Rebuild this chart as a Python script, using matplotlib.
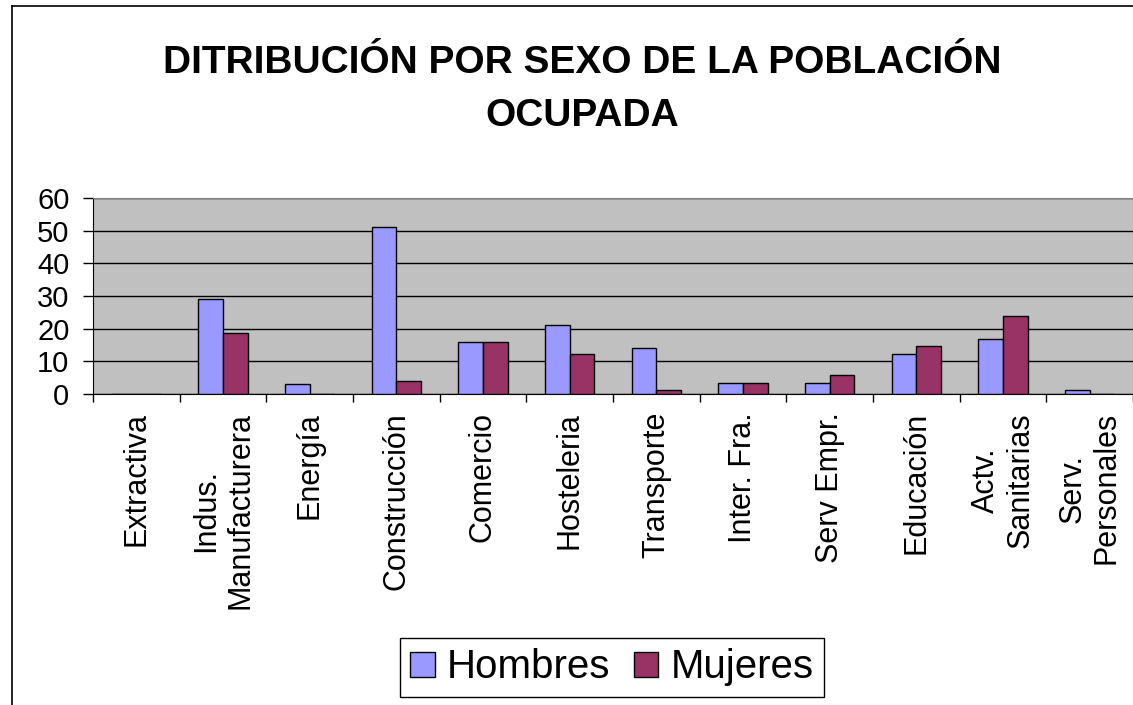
import numpy as np
import matplotlib
matplotlib.use("Agg")
import matplotlib.pyplot as plt
from matplotlib.lines import Line2D

plt.rcParams['font.family'] = ['Liberation Sans', 'DejaVu Sans']

# data
categorias = ["Extractiva", "Indus.\nManufacturera", "Energía", "Construcción",
              "Comercio", "Hosteleria", "Transporte", "Inter. Fra.",
              "Serv Empr.", "Educación", "Actv.\nSanitarias", "Serv.\nPersonales"]
hombres = [0, 29, 3.2, 51, 16, 21.2, 14.2, 3.3, 3.3, 12.2, 16.7, 1.2]
mujeres = [0, 18.6, 0, 3.9, 16, 12.2, 1.1, 3.3, 5.7, 14.8, 23.9, 0]
yticks = [0, 10, 20, 30, 40, 50, 60]

W, H = 1133, 705
fig = plt.figure(figsize=(W / 100, H / 100), dpi=100)

# chart frame (left + top border)
fig.add_artist(Line2D([12 / W, 12 / W], [0, 1 - 6 / H], color='black', lw=1.2))
fig.add_artist(Line2D([12 / W, 1], [1 - 6 / H, 1 - 6 / H], color='black', lw=1.2))

ax = fig.add_axes([93 / W, 1 - 394 / H, (1133 - 93) / W, (394 - 198) / H])
ax.set_facecolor('#C0C0C0')

x = np.arange(len(categorias))
bw = 0.285
ax.bar(x - bw / 2, hombres, bw, color='#9999FF', edgecolor='black', lw=1, label='Hombres', zorder=3)
ax.bar(x + bw / 2, mujeres, bw, color='#993366', edgecolor='black', lw=1, label='Mujeres', zorder=3)

ax.set_xlim(-0.5, len(categorias) - 0.5)
ax.set_ylim(0, 60)
ax.set_yticks(yticks)
ax.tick_params(axis='y', labelsize=21, length=7, width=1, pad=10)
ax.grid(axis='y', color='black', lw=1, zorder=1)

# boundaries as major ticks, labels on minor ticks at centres
ax.set_xticks(np.arange(len(categorias) + 1) - 0.5)
ax.set_xticklabels([])
ax.set_xticks(x, minor=True)
ax.set_xticklabels(categorias, minor=True, rotation=90, va='top', ha='center',
                   multialignment='center', fontsize=22)
ax.tick_params(axis='x', which='major', length=6, width=1, direction='out')
ax.tick_params(axis='x', which='minor', length=0, pad=13)

ax.spines['top'].set_color('#808080')
ax.spines['right'].set_color('#808080')
ax.spines['left'].set_color('black')
ax.spines['bottom'].set_color('black')

fig.text(582 / W, 1 - 73 / H, "DITRIBUCIÓN POR SEXO DE LA POBLACIÓN",
         ha='center', va='baseline', fontsize=28, fontweight='bold')
fig.text(582 / W, 1 - 126 / H, "OCUPADA",
         ha='center', va='baseline', fontsize=28, fontweight='bold')

leg = fig.legend(loc='center', bbox_to_anchor=(612 / W, 1 - 667.5 / H), ncol=2,
                 fontsize=29, fancybox=False, edgecolor='black', framealpha=1,
                 handlelength=0.6, handleheight=0.6, handletextpad=0.3,
                 columnspacing=0.6, borderpad=0.25, borderaxespad=0)
leg.get_frame().set_linewidth(1)

fig.savefig("out.png", dpi=100)
